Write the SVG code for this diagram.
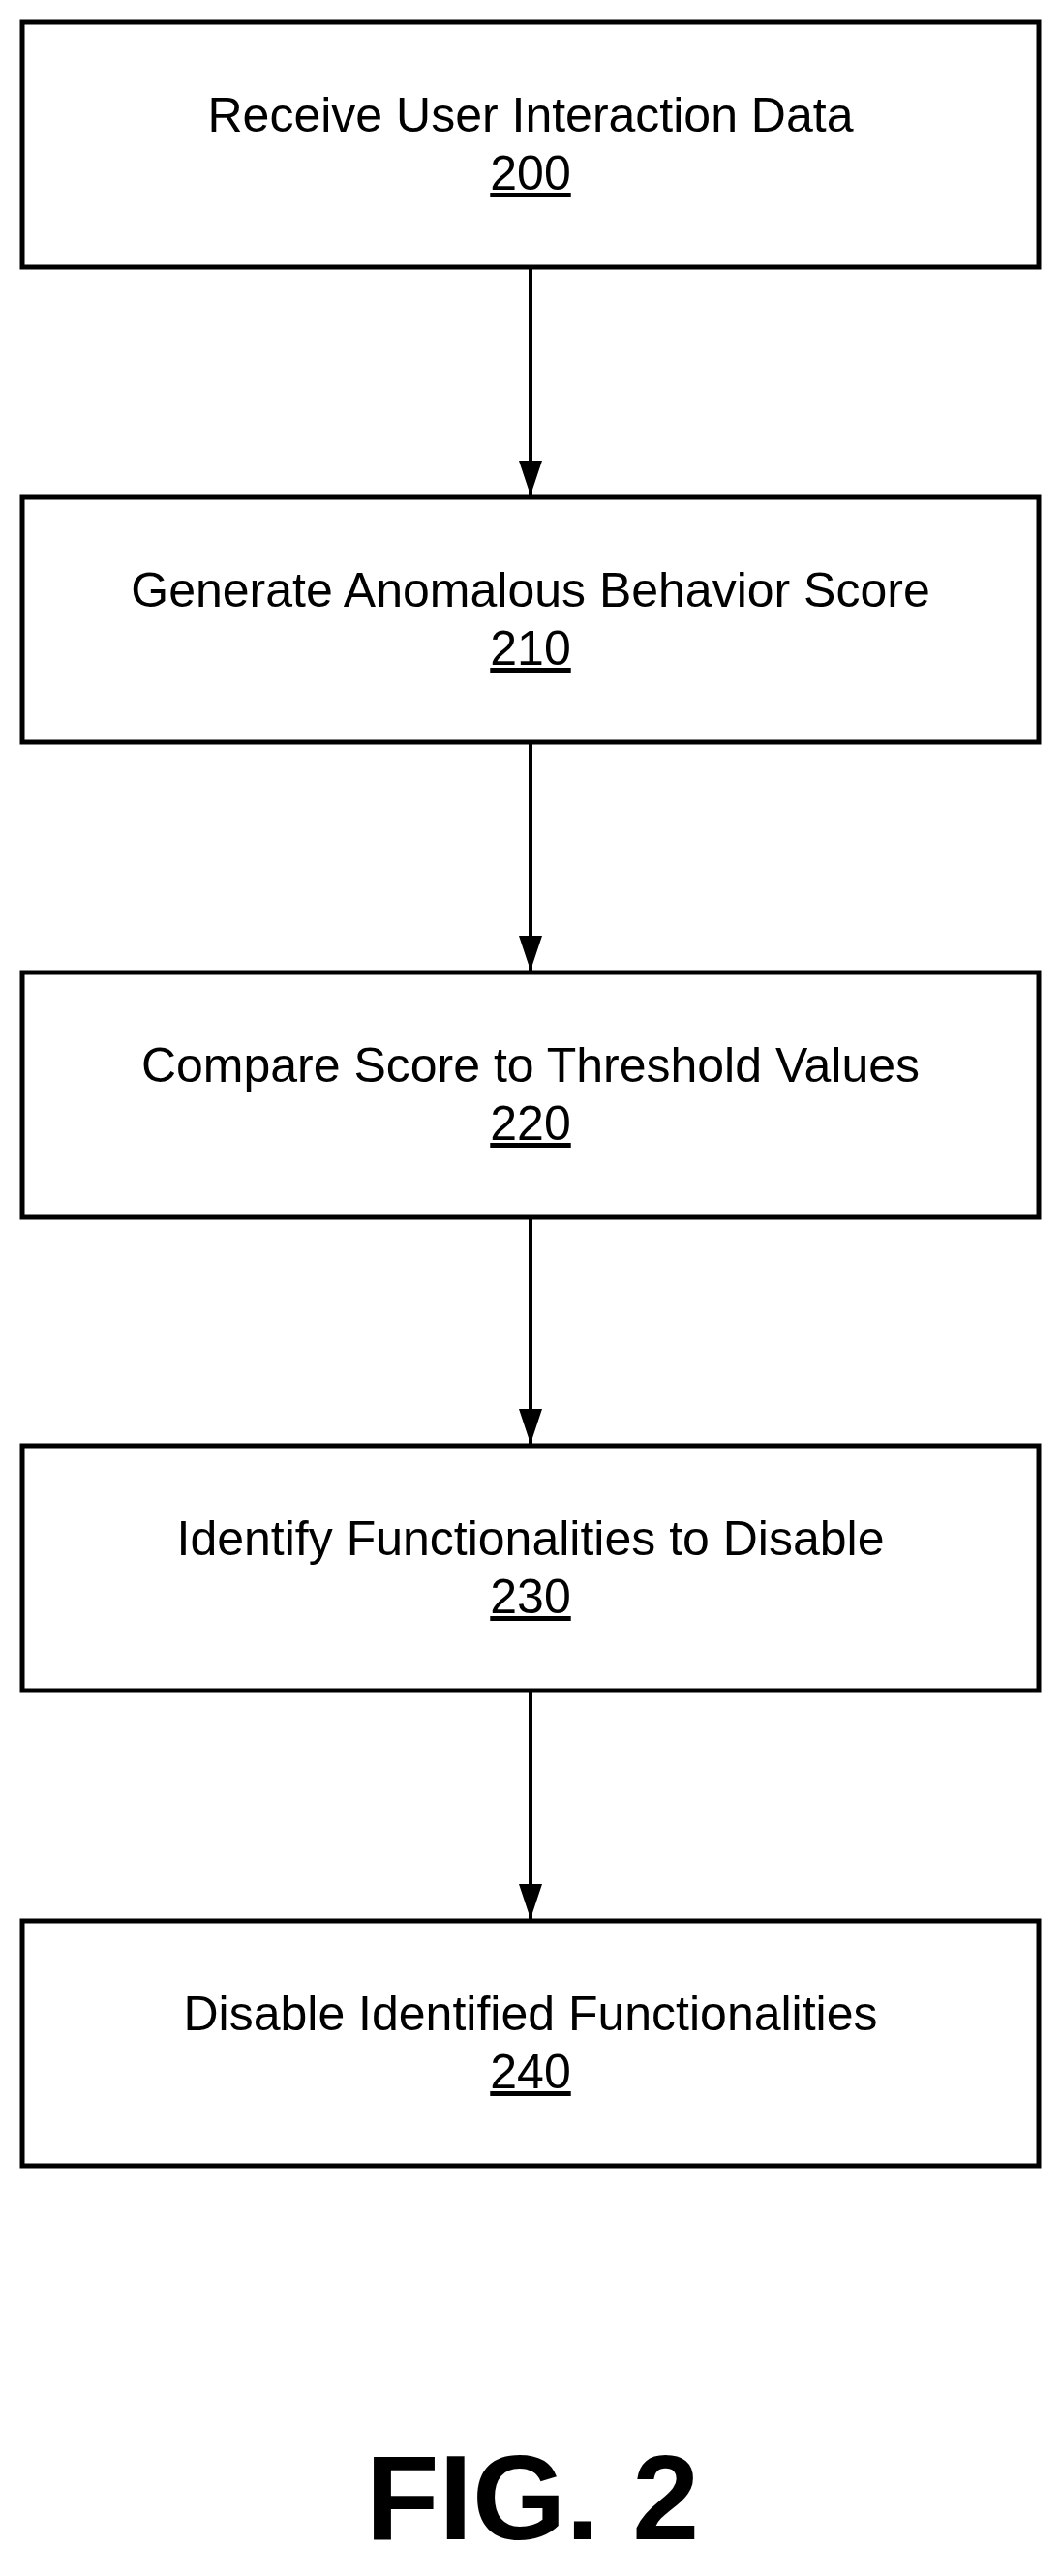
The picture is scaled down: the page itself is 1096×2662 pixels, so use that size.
<svg xmlns="http://www.w3.org/2000/svg" width="1096" height="2662" viewBox="0 0 1096 2662">
<style>
.b{fill:#fff;stroke:#000;stroke-width:5}
.t{font-family:"Liberation Sans",Arial,sans-serif;font-size:50px;text-anchor:middle;fill:#000}
.n{text-decoration:underline}
.c{stroke:#000;stroke-width:4;fill:none;marker-end:url(#a)}
</style>
<defs><marker id="a" markerUnits="userSpaceOnUse" markerWidth="24" markerHeight="36" refX="12" refY="36" orient="0" viewBox="0 0 24 36"><path d="M0,0 L24,0 L12,36 Z" fill="#000"/></marker></defs>
<g id="connectors">
<path class="c" d="M548,278 V512"/>
<path class="c" d="M548,769 V1003"/>
<path class="c" d="M548,1260 V1492"/>
<path class="c" d="M548,1749 V1983"/>
</g>
<g id="n200"><rect class="b" x="23" y="23" width="1050" height="253"/><text class="t" x="548" y="136">Receive User Interaction Data</text><text class="t n" x="548" y="196">200</text></g>
<g id="n210"><rect class="b" x="23" y="514" width="1050" height="253"/><text class="t" x="548" y="627">Generate Anomalous Behavior Score</text><text class="t n" x="548" y="687">210</text></g>
<g id="n220"><rect class="b" x="23" y="1005" width="1050" height="253"/><text class="t" x="548" y="1118">Compare Score to Threshold Values</text><text class="t n" x="548" y="1178">220</text></g>
<g id="n230"><rect class="b" x="23" y="1494" width="1050" height="253"/><text class="t" x="548" y="1607">Identify Functionalities to Disable</text><text class="t n" x="548" y="1667">230</text></g>
<g id="n240"><rect class="b" x="23" y="1985" width="1050" height="253"/><text class="t" x="548" y="2098">Disable Identified Functionalities</text><text class="t n" x="548" y="2158">240</text></g>
<text x="550" y="2624" style="font-family:'Liberation Sans',Arial,sans-serif;font-size:124px;font-weight:bold;text-anchor:middle">FIG. 2</text>
</svg>
